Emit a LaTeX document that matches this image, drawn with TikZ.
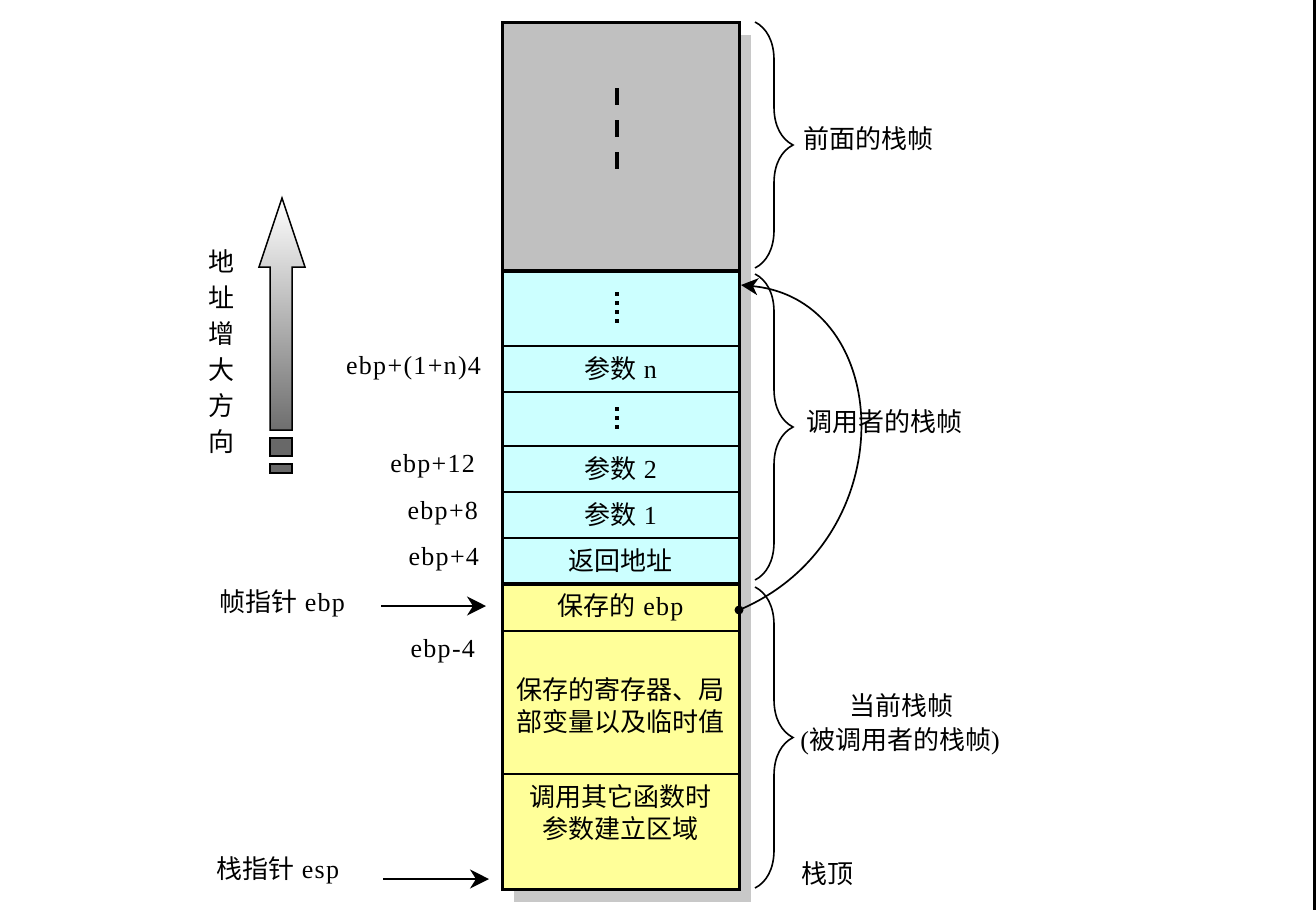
\documentclass[tikz,border=0pt]{standalone}
\usepackage{fontspec}
\setmainfont{Liberation Serif}[LetterSpace=5]
\newfontfamily\cjk{Noto Sans CJK SC}
\usetikzlibrary{decorations.pathreplacing,arrows.meta}

\definecolor{framegray}{RGB}{192,192,192}
\definecolor{argcyan}{RGB}{204,255,255}
\definecolor{localyellow}{RGB}{255,255,153}
\definecolor{shadowgray}{RGB}{200,200,200}
\definecolor{arrowdark}{RGB}{110,110,110}

\newcommand\zh[1]{{\cjk #1}}

\begin{document}
\begin{tikzpicture}[x=1pt,y=-1pt,
  every node/.style={font=\fontsize{26pt}{32pt}\selectfont, inner sep=0pt, outer sep=0pt},
  slot/.style={draw, line width=1.5pt, minimum width=237pt, anchor=north west},
  offset/.style={anchor=east},
  ptr/.style={line width=1.8pt, -{Stealth[length=19pt,width=19pt,inset=6pt]}},
  bracebar/.style={line width=1.6pt, decorate, decoration={brace, amplitude=38pt}},
  vdots/.style={line width=4pt, dash pattern=on 4pt off 5pt},
]
\useasboundingbox (0,0) rectangle (1316,910);

% drop shadow behind the stack column
\fill[shadowgray] (514,35) rectangle (751,902);

% stack slots, top (high address) to bottom (low address)
\node[slot, fill=framegray,   minimum height=249pt] (prev)   at (502,22)  {};
\node[slot, fill=argcyan,     minimum height=75pt]  (more)   at (502,271) {};
\node[slot, fill=argcyan,     minimum height=46pt]  (argn)   at (502,346) {\zh{参数} n};
\node[slot, fill=argcyan,     minimum height=54pt]  (mid)    at (502,392) {};
\node[slot, fill=argcyan,     minimum height=46pt]  (arg2)   at (502,446) {\zh{参数} 2};
\node[slot, fill=argcyan,     minimum height=46pt]  (arg1)   at (502,492) {\zh{参数} 1};
\node[slot, fill=argcyan,     minimum height=46pt]  (ret)    at (502,538) {\zh{返回地址}};
\node[slot, fill=localyellow, minimum height=47pt]  (oldebp) at (502,584) {\zh{保存的} ebp};
\node[slot, fill=localyellow, minimum height=143pt] (locals) at (502,631) {};
\node[slot, fill=localyellow, minimum height=115pt] (outargs) at (502,774) {};

\node[align=center] (localstxt) at (620.5,706) {\zh{保存的寄存器、局}\\\zh{部变量以及临时值}};
\node[align=center] (outargstxt) at (620.5,813) {\zh{调用其它函数时}\\\zh{参数建立区域}};

% outer frame and frame boundaries
\draw[line width=3pt] (prev.north west) rectangle (outargs.south east);
\draw[line width=4pt] (prev.south west) -- (prev.south east);
\draw[line width=4pt] (ret.south west) -- (ret.south east);

% elision marks
\draw[line width=4pt, dash pattern=on 17pt off 15pt] (617,88) -- (617,170);
\draw[vdots] (617,292) -- (617,324);
\draw[vdots] (617,407) -- (617,430);

% offsets from ebp
\node[offset] (o1) at (481,368) {ebp+(1+n)4};
\node[offset] (o2) at (475,466) {ebp+12};
\node[offset] (o3) at (478,513) {ebp+8};
\node[offset] (o4) at (479,559) {ebp+4};
\node[offset] (o5) at (475,651) {ebp-4};

% frame and stack pointers
\node[anchor=west] (fp) at (219,603) {\zh{帧指针} ebp};
\node[anchor=west] (sp) at (216,870) {\zh{栈指针} esp};
\coordinate (fpfrom) at (381,606);
\coordinate (fpto)   at (486,606);
\coordinate (spfrom) at (383,879);
\coordinate (spto)   at (489,879);
\draw[ptr] (fpfrom) -- (fpto);
\draw[ptr] (spfrom) -- (spto);

% address growth direction
\node[align=center, font=\fontsize{26pt}{36pt}\selectfont\cjk] (grow) at (221,352) {地\\址\\增\\大\\方\\向};
\draw[line width=1.5pt, top color=white, bottom color=arrowdark]
  (282,198) -- (305,267) -- (292,267) -- (292,430) -- (270,430) -- (270,267) -- (259,267) -- cycle;
\draw[line width=1.5pt, fill=arrowdark!95!black] (270,438) rectangle (292,456);
\draw[line width=1.5pt, fill=arrowdark!95!black] (270,464) rectangle (292,473);

% frame braces
\draw[bracebar] (755,22)  -- (755,268);
\draw[bracebar] (755,274) -- (755,580);
\draw[bracebar] (755,587) -- (755,888);
\node[anchor=west] (lprev) at (803,139) {\zh{前面的栈帧}};
\node[anchor=west] (lcaller) at (806,422) {\zh{调用者的栈帧}};
\node (lcur) at (901,706) {\zh{当前栈帧}};
\node (lcallee) at (900,741) {(\zh{被调用者的栈帧})};
\node[anchor=west] (ltop) at (801,874) {\zh{栈顶}};

% saved ebp points back to the caller's frame
\coordinate (savedebp) at (739,610);
\coordinate (callerbase) at (741,285);
\fill (savedebp) circle (4.5);
\draw[line width=1.7pt, -{Stealth[length=17pt,width=17pt,inset=5pt]}]
  (savedebp) .. controls (905,540) and (895,300) .. (callerbase);

% right edge rule
\fill (1312.5,0) rectangle (1316,910);
\end{tikzpicture}
\end{document}
